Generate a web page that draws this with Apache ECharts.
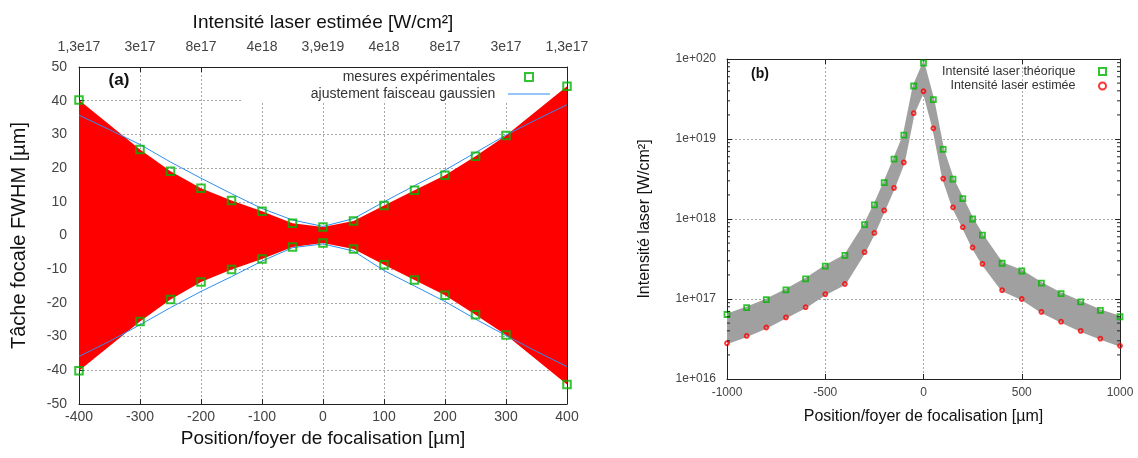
<!DOCTYPE html>
<html><head><meta charset="utf-8">
<script src="https://cdn.jsdelivr.net/npm/echarts@6/dist/echarts.min.js"></script>
<style>html,body{margin:0;padding:0;background:#fff}#c{width:1138px;height:458px}</style>
</head><body><div id="c"></div>
<script>
// ---------- Panel (a) data ----------
const posA = [-400,-300,-250,-200,-150,-100,-50,0,50,100,150,200,250,300,400];
const upperA = [40.2,25.5,19.1,14.0,10.4,7.2,3.6,2.5,4.3,8.9,13.4,17.9,23.5,29.7,44.3];
const lowerA = [-40.1,-25.5,-19.0,-13.8,-10.1,-7.0,-3.4,-2.2,-4.0,-8.7,-13.2,-17.7,-23.5,-29.5,-44.2];
const fitX = [-400,-350,-300,-250,-200,-150,-100,-50,0,50,100,150,200,250,300,350,400];
const fitUpper = [35.7,31.4,27.0,21.8,17.0,12.4,8.0,4.6,2.7,5.0,10.0,14.8,19.4,24.6,29.8,34.4,38.8];
const fitLower = [-35.9,-31.4,-26.5,-21.4,-16.6,-12.2,-7.6,-3.6,-2.5,-4.6,-10.4,-15.0,-19.6,-24.8,-29.7,-34.4,-38.9];
const topTickLabels = ['1,3e17','3e17','8e17','4e18','3,9e19','4e18','8e17','3e17','1,3e17'];

// ---------- Panel (b) data ----------
const posB = [-1000,-900,-800,-700,-600,-500,-400,-300,-250,-200,-150,-100,-50,0,50,100,150,200,250,300,400,500,600,700,800,900,1000];
const theo = [6.4e16,7.8e16,9.8e16,1.3e17,1.78e17,2.57e17,3.5e17,8.5e17,1.5e18,2.85e18,5.6e18,1.12e19,4.6e19,8.9e19,3.1e19,7.4e18,3.15e18,1.8e18,1.0e18,6.3e17,2.8e17,2.24e17,1.58e17,1.17e17,9.2e16,7.2e16,6.0e16];
const est = [2.8e16,3.45e16,4.4e16,5.9e16,7.9e16,1.15e17,1.54e17,3.85e17,6.7e17,1.28e18,2.45e18,5.1e18,2.1e19,3.95e19,1.36e19,3.2e18,1.4e18,7.9e17,4.4e17,2.75e17,1.29e17,1.0e17,6.9e16,5.2e16,4.0e16,3.2e16,2.6e16];
const logTickLabels = ['1e+016','1e+017','1e+018','1e+019','1e+020'];

const FONT = '"Liberation Sans", Arial, sans-serif';
const LBL = '#444';
const NAME = '#111';
const grid = {show:true, lineStyle:{color:'#a8a8a8', type:[2,2], width:1}};
const blk = {show:true, onZero:false, lineStyle:{color:'#222', width:1}};
const SQUARE_ICON = 'path://M0,0L10,0L10,10L0,10Z';
const LINE_ICON = 'path://M0,0L42,0L42,1.2L0,1.2Z';

// minor ticks for the log axis (decoration)
const minorVals = [];
for (let d = 0; d < logTickLabels.length - 1; d++) {
  for (let k = 2; k <= 9; k++) minorVals.push([0, k * Math.pow(10, 16 + d)]);
}

const chart = echarts.init(document.getElementById('c'), null, {renderer:'canvas'});
chart.setOption({
  animation:false,
  textStyle:{fontFamily:FONT},
  grid:[
    {left:79, top:67, width:488, height:337},
    {left:727, top:59, width:393, height:320}
  ],
  xAxis:[
    {gridIndex:0, type:'value', position:'bottom', min:-400, max:400, interval:100,
     axisLine:blk, axisTick:{inside:true, length:5, lineStyle:{color:'#222'}},
     axisLabel:{fontSize:14, color:LBL, margin:6, fontFamily:FONT, formatter:v => String(v)},
     splitLine:grid,
     name:'Position/foyer de focalisation [µm]', nameLocation:'middle', nameGap:22,
     nameTextStyle:{fontSize:19, color:NAME, fontFamily:FONT}},
    {gridIndex:0, type:'value', position:'top', min:-400, max:400, interval:100,
     axisLine:blk, axisTick:{inside:true, length:5, lineStyle:{color:'#222'}},
     axisLabel:{fontSize:14, color:LBL, margin:13, fontFamily:FONT,
       formatter:v => topTickLabels[Math.round((v + 400) / 100)]},
     splitLine:{show:false},
     name:'Intensité laser estimée [W/cm²]', nameLocation:'middle', nameGap:35,
     nameTextStyle:{fontSize:19, color:NAME, fontFamily:FONT}},
    {gridIndex:1, type:'value', position:'bottom', min:-1000, max:1000, interval:500,
     axisLine:blk, axisTick:{inside:true, length:5, lineStyle:{color:'#222'}},
     axisLabel:{fontSize:12, color:LBL, margin:8, fontFamily:FONT, formatter:v => String(v)},
     splitLine:grid,
     name:'Position/foyer de focalisation [µm]', nameLocation:'middle', nameGap:30,
     nameTextStyle:{fontSize:16, color:NAME, fontFamily:FONT}},
    {gridIndex:1, type:'value', position:'top', min:-1000, max:1000, interval:500,
     axisLine:blk, axisTick:{inside:true, length:5, lineStyle:{color:'#222'}},
     axisLabel:{show:false}, splitLine:{show:false}}
  ],
  yAxis:[
    {gridIndex:0, type:'value', position:'left', min:-50, max:50, interval:10,
     axisLine:blk, axisTick:{inside:true, length:5, lineStyle:{color:'#222'}},
     axisLabel:{fontSize:14, color:LBL, margin:12, fontFamily:FONT},
     splitLine:grid,
     name:'Tâche focale FWHM [µm]', nameLocation:'middle', nameGap:50,
     nameTextStyle:{fontSize:20, color:NAME, fontFamily:FONT}},
    {gridIndex:0, type:'value', position:'right', min:-50, max:50, interval:10,
     axisLine:blk, axisTick:{inside:true, length:5, lineStyle:{color:'#222'}},
     axisLabel:{show:false}, splitLine:{show:false}},
    {gridIndex:1, type:'log', logBase:10, position:'left', min:1e16, max:1e20, splitNumber:4,
     axisLine:blk, axisTick:{inside:true, length:5, lineStyle:{color:'#222'}},
     axisLabel:{fontSize:12, color:LBL, margin:11, fontFamily:FONT,
       formatter:v => logTickLabels[Math.round(Math.log10(v)) - 16]},
     splitLine:grid,
     name:'Intensité laser [W/cm²]', nameLocation:'middle', nameGap:74,
     nameTextStyle:{fontSize:16, color:NAME, fontFamily:FONT}},
    {gridIndex:1, type:'log', logBase:10, position:'right', min:1e16, max:1e20, splitNumber:4,
     axisLine:blk, axisTick:{inside:true, length:5, lineStyle:{color:'#222'}},
     axisLabel:{show:false}, splitLine:{show:false}}
  ],
  legend:[
    {data:[{name:'mesures expérimentales', icon:SQUARE_ICON},
           {name:'ajustement faisceau gaussien', icon:LINE_ICON}],
     orient:'vertical', align:'right', right:588, top:70, padding:0,
     itemWidth:42, itemHeight:8, itemGap:3, symbolKeepAspect:true,
     formatter:n => n + '  ',
     textStyle:{fontSize:14, color:'#333', fontFamily:FONT}},
    {data:[{name:'Intensité laser théorique', icon:SQUARE_ICON},
           {name:'Intensité laser estimée', icon:'circle'}],
     orient:'vertical', align:'right', right:31, top:65, padding:0,
     itemWidth:44, itemHeight:7, itemGap:1.5, symbolKeepAspect:true,
     textStyle:{fontSize:12.5, color:'#333', fontFamily:FONT}}
  ],
  graphic:[
    {type:'rect', shape:{x:242, y:68, width:324, height:34}, style:{fill:'#fff'}, z:1, silent:true},
    {type:'text', x:119, y:80, style:{text:'(a)', font:'bold 17px ' + FONT, fill:'#111', align:'center', verticalAlign:'middle'}, z:10},
    {type:'text', x:760, y:74, style:{text:'(b)', font:'bold 14px ' + FONT, fill:'#111', align:'center', verticalAlign:'middle'}, z:10}
  ],
  series:[
    // red envelope between upper and lower measured widths
    {type:'custom', xAxisIndex:0, yAxisIndex:0, silent:true, z:2, clip:true,
     data:[[0, 0]],
     renderItem:function(params, api){
       const pts = [];
       for (let i = 0; i < posA.length; i++) pts.push(api.coord([posA[i], upperA[i]]));
       for (let i = posA.length - 1; i >= 0; i--) pts.push(api.coord([posA[i], lowerA[i]]));
       return {type:'polygon', shape:{points:pts}, style:{fill:'#ff0000'}};
     }},
    {name:'ajustement faisceau gaussien', type:'line', xAxisIndex:0, yAxisIndex:0, symbol:'none', z:3,
     data:fitX.map((x,i) => [x, fitUpper[i]]), lineStyle:{color:'#2f8ef0', width:1}, itemStyle:{color:'#2f8ef0'}},
    {name:'ajustement faisceau gaussien', type:'line', xAxisIndex:0, yAxisIndex:0, symbol:'none', z:3,
     data:fitX.map((x,i) => [x, fitLower[i]]), lineStyle:{color:'#2f8ef0', width:1}, itemStyle:{color:'#2f8ef0'}},
    {name:'mesures expérimentales', type:'scatter', xAxisIndex:0, yAxisIndex:0, symbol:'rect', symbolSize:7.5, z:4,
     data:posA.map((x,i) => [x, upperA[i]]).concat(posA.map((x,i) => [x, lowerA[i]])),
     itemStyle:{color:'rgba(255,255,255,0)', borderColor:'#00b400', borderWidth:2}},
    // panel (b)
    {type:'custom', xAxisIndex:2, yAxisIndex:2, silent:true, z:2, clip:true,
     data:[[0, 1e18]],
     renderItem:function(params, api){
       const pts = [];
       for (let i = 0; i < posB.length; i++) pts.push(api.coord([posB[i], theo[i]]));
       for (let i = posB.length - 1; i >= 0; i--) pts.push(api.coord([posB[i], est[i]]));
       return {type:'polygon', shape:{points:pts}, style:{fill:'#a0a0a0', stroke:'#a0a0a0', lineWidth:2}};
     }},
    {type:'custom', xAxisIndex:2, yAxisIndex:2, silent:true, z:5,
     data:minorVals,
     renderItem:function(params, api){
       const v = api.value(1);
       const l = api.coord([-1000, v]);
       const r = api.coord([1000, v]);
       return {type:'group', children:[
         {type:'line', shape:{x1:l[0], y1:l[1], x2:l[0] + 3, y2:l[1]}, style:{stroke:'#222', lineWidth:1}},
         {type:'line', shape:{x1:r[0], y1:r[1], x2:r[0] - 3, y2:r[1]}, style:{stroke:'#222', lineWidth:1}}
       ]};
     }},
    {name:'Intensité laser théorique', type:'scatter', xAxisIndex:2, yAxisIndex:2, symbol:'rect', symbolSize:5, z:4,
     data:posB.map((x,i) => [x, theo[i]]),
     itemStyle:{color:'rgba(255,255,255,0)', borderColor:'#00b400', borderWidth:1.8}},
    {name:'Intensité laser estimée', type:'scatter', xAxisIndex:2, yAxisIndex:2, symbol:'circle', symbolSize:4, z:4,
     data:posB.map((x,i) => [x, est[i]]),
     itemStyle:{color:'rgba(255,255,255,0)', borderColor:'#ff0000', borderWidth:1.8}}
  ]
});
</script>
</body></html>
